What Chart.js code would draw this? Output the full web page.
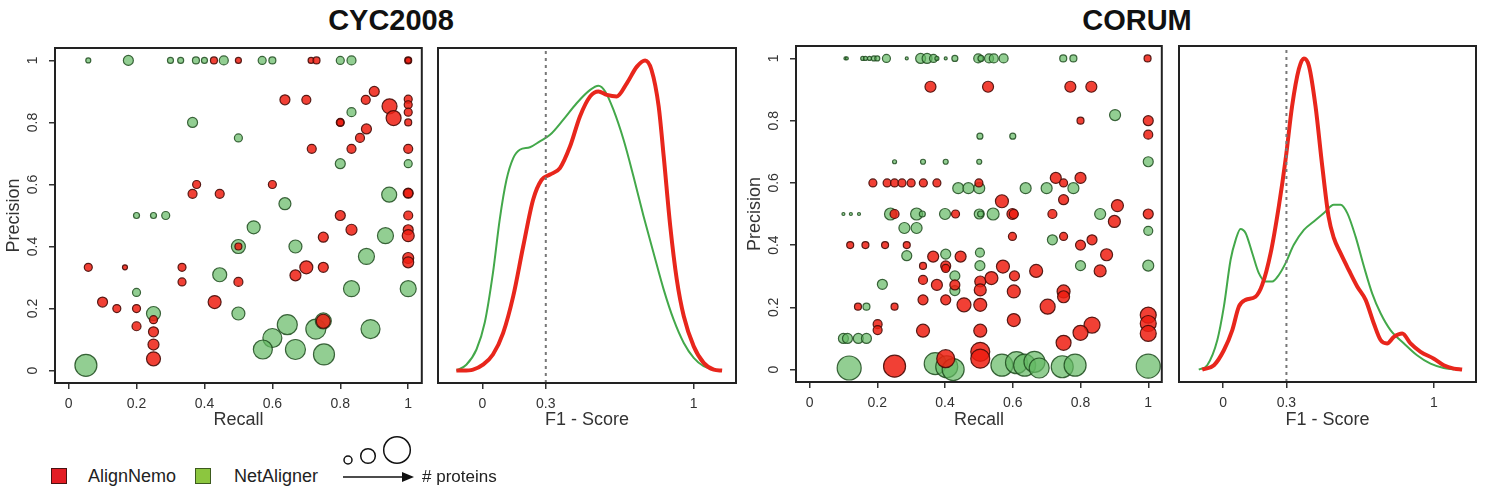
<!DOCTYPE html>
<html>
<head>
<meta charset="utf-8">
<title>AlignNemo vs NetAligner</title>
<script src="https://cdn.jsdelivr.net/npm/chart.js@4.4.1/dist/chart.umd.min.js"></script>
<style>
  body { margin: 0; background: #fff; font-family: "Liberation Sans", Arial, sans-serif; }
  #wrap { position: relative; width: 1487px; height: 489px; overflow: hidden; }
  #wrap canvas { position: absolute; top: 0; }
  .title { position: absolute; top: 5px; width: 200px; text-align: center; font-weight: bold; font-size: 29px; line-height: 30px; color: #111; }
  .leg { position: absolute; font-size: 18px; line-height: 20px; color: #222; white-space: nowrap; }
  .sq { position: absolute; width: 16px; height: 16px; box-sizing: border-box; border: 1.5px solid #333; }
</style>
</head>
<body>
<div id="wrap">
  <div class="title" style="left:291px">CYC2008</div>
  <div class="title" style="left:1037px">CORUM</div>

  <canvas id="cycScatter" width="434" height="440" style="left:0px"></canvas>
  <canvas id="cycDensity" width="306" height="440" style="left:434px"></canvas>
  <canvas id="corumScatter" width="435" height="440" style="left:740px"></canvas>
  <canvas id="corumDensity" width="312" height="440" style="left:1175px"></canvas>

  <div class="sq" style="left:51px; top:468px; background:#e31d24; border-color:#4a1212"></div>
  <div class="leg" style="left:88px; top:466px">AlignNemo</div>
  <div class="sq" style="left:195px; top:468px; background:#8cc63f; border-color:#3c5a1e"></div>
  <div class="leg" style="left:234px; top:466px">NetAligner</div>
  <svg style="position:absolute; left:330px; top:430px" width="100" height="60">
    <circle cx="18" cy="30" r="4" fill="none" stroke="#111" stroke-width="1.5"/>
    <circle cx="38" cy="26" r="7.3" fill="none" stroke="#111" stroke-width="1.5"/>
    <circle cx="67" cy="20" r="13.3" fill="none" stroke="#111" stroke-width="1.5"/>
    <line x1="13" y1="47" x2="74" y2="47" stroke="#111" stroke-width="1.6"/>
    <polygon points="72,42 84,47 72,52" fill="#111"/>
  </svg>
  <div class="leg" style="left:422px; top:467px; font-size:17px">#&nbsp;proteins</div>
</div>

<script>
// [recall, precision, bubble size]
const cycAlignNemo = [
    [0.428, 1, 3.5], [0.50, 1, 3], [0.714, 1, 3], [0.73, 1, 3.5], [1.0, 1, 3.5], [1.0, 1, 3],
    [0.90, 0.90, 5], [0.875, 0.873, 4.5], [0.637, 0.873, 5], [0.70, 0.873, 4.5],
    [1.0, 0.875, 4], [1.0, 0.857, 4], [1.0, 0.833, 4], [0.945, 0.852, 7.5], [0.957, 0.814, 7.5],
    [0.80, 0.80, 4], [0.80, 0.80, 3.5], [1.0, 0.80, 3.5], [0.877, 0.779, 5], [0.858, 0.75, 4.5],
    [0.833, 0.715, 4.5], [0.716, 0.715, 4.5], [1.0, 0.715, 4.5], [0.377, 0.60, 4], [0.365, 0.57, 4.5],
    [0.445, 0.57, 4.5], [0.60, 0.60, 4], [1.0, 0.572, 5], [1.0, 0.572, 4.5], [0.80, 0.50, 5],
    [1.0, 0.50, 4.5], [0.833, 0.454, 5.5], [1.0, 0.454, 5], [1.0, 0.435, 6], [0.75, 0.43, 5],
    [0.50, 0.40, 3.5], [1.0, 0.363, 5.5], [1.0, 0.349, 5.5], [0.058, 0.333, 4], [0.166, 0.333, 2.5],
    [0.334, 0.333, 4], [0.70, 0.333, 6.5], [0.668, 0.307, 5.5], [0.75, 0.333, 5], [0.334, 0.286, 4],
    [0.50, 0.286, 4.5], [0.10, 0.221, 5], [0.43, 0.221, 6.5], [0.142, 0.20, 4], [0.20, 0.20, 4],
    [0.25, 0.164, 4], [0.20, 0.143, 4.5], [0.25, 0.125, 5], [0.25, 0.084, 5.5], [0.25, 0.038, 7],
    [0.75, 0.159, 7]
];

const cycNetAligner = [
    [0.058, 1, 2.5], [0.176, 1, 5], [0.30, 1, 3], [0.33, 1, 3], [0.375, 1, 3.5], [0.40, 1, 3],
    [0.457, 1, 4.5], [0.57, 1, 4], [0.60, 1, 3.5], [0.80, 1, 4], [0.833, 1, 4.5],
    [0.365, 0.80, 5], [0.50, 0.75, 4], [0.833, 0.833, 4.5], [0.80, 0.667, 5], [1.0, 0.667, 4],
    [0.944, 0.567, 7.5], [0.20, 0.50, 3], [0.25, 0.50, 3], [0.286, 0.50, 4], [0.637, 0.538, 6],
    [0.545, 0.462, 6.5], [0.50, 0.40, 7], [0.668, 0.40, 6.5], [0.933, 0.435, 8], [0.877, 0.368, 8],
    [0.445, 0.309, 7], [0.833, 0.264, 8], [1.0, 0.264, 8], [0.20, 0.252, 4], [0.25, 0.184, 7],
    [0.50, 0.184, 6.5], [0.644, 0.148, 10], [0.60, 0.105, 9.5], [0.728, 0.134, 10], [0.889, 0.134, 9.5],
    [0.572, 0.068, 9.5], [0.668, 0.068, 10], [0.752, 0.052, 10.5], [0.051, 0.017, 11], [0.75, 0.16, 8]
];

const corumAlignNemo = [
    [0.998, 1, 3.5],
    [0.357, 0.909, 5.5], [0.527, 0.909, 5.5], [0.77, 0.909, 5.5], [0.832, 0.909, 5.5],
    [0.80, 0.80, 3.5], [1.0, 0.80, 5], [1.0, 0.755, 4.5],
    [0.187, 0.60, 4], [0.229, 0.60, 4], [0.251, 0.60, 4], [0.273, 0.60, 4], [0.30, 0.60, 4],
    [0.336, 0.60, 4], [0.376, 0.60, 4], [0.50, 0.60, 4],
    [0.727, 0.616, 5.5], [0.75, 0.60, 4], [0.80, 0.616, 5.5], [0.75, 0.546, 5], [0.568, 0.541, 6.5],
    [0.251, 0.50, 4.5], [0.431, 0.50, 4], [0.599, 0.50, 5.5], [0.603, 0.50, 4.5], [0.717, 0.50, 4.5],
    [1.0, 0.50, 5], [0.909, 0.527, 6], [0.90, 0.476, 6],
    [0.599, 0.428, 4], [0.75, 0.428, 4], [0.80, 0.40, 5], [0.834, 0.417, 5],
    [0.12, 0.40, 3.5], [0.165, 0.40, 3.5], [0.223, 0.40, 3.5], [0.287, 0.40, 3.5],
    [0.365, 0.363, 5.5], [0.446, 0.363, 5.5], [0.877, 0.369, 6], [0.335, 0.333, 3.5], [0.402, 0.333, 5],
    [0.402, 0.325, 4], [0.571, 0.331, 6.5], [0.669, 0.317, 6.5], [0.858, 0.317, 6],
    [0.335, 0.288, 4.5], [0.376, 0.272, 5.5], [0.429, 0.272, 5], [0.504, 0.283, 5.5], [0.504, 0.256, 6],
    [0.537, 0.294, 6.5], [0.605, 0.301, 5], [0.603, 0.251, 6.5], [0.75, 0.251, 6.5], [0.75, 0.234, 6],
    [0.335, 0.224, 5], [0.402, 0.224, 5], [0.456, 0.208, 7], [0.504, 0.208, 6.5], [0.703, 0.202, 7.5],
    [0.143, 0.202, 3.5], [0.251, 0.202, 3.5],
    [0.603, 0.159, 6.5], [0.201, 0.146, 4.5], [0.201, 0.127, 4.5], [0.335, 0.125, 6.5], [0.504, 0.125, 6.5],
    [0.834, 0.143, 8], [0.80, 0.118, 7.5], [0.75, 0.086, 7.5], [1.0, 0.175, 8], [1.0, 0.148, 8], [1.0, 0.116, 8],
    [0.504, 0.057, 9.5], [0.504, 0.035, 9.5], [0.402, 0.035, 9], [0.251, 0.011, 11]
];

const corumNetAligner = [
    [0.106, 1, 1.5], [0.11, 1, 1.5], [0.157, 1, 2], [0.165, 1, 2], [0.177, 1, 2], [0.19, 1, 2.5],
    [0.20, 1, 2.5], [0.227, 1, 4], [0.287, 1, 1.5], [0.328, 1, 5], [0.347, 1, 5], [0.366, 1, 4],
    [0.376, 1, 2], [0.402, 1, 1.5], [0.429, 1, 3], [0.498, 1, 4.5], [0.506, 1, 3], [0.53, 1, 4.5],
    [0.544, 1, 4.5], [0.573, 1, 4.5], [0.749, 1, 3.5], [0.779, 1, 3.5],
    [0.902, 0.818, 5.5], [0.503, 0.75, 3], [0.60, 0.75, 3], [0.251, 0.668, 2], [0.335, 0.668, 2.5],
    [0.402, 0.668, 2.5], [0.501, 0.668, 2.5], [1.0, 0.668, 5],
    [0.439, 0.583, 5.5], [0.469, 0.583, 5.5], [0.501, 0.583, 5.5], [0.638, 0.583, 5.5], [0.70, 0.583, 5.5],
    [0.779, 0.583, 5.5], [1.0, 0.446, 4.5],
    [0.10, 0.50, 1.5], [0.122, 0.50, 1.5], [0.146, 0.50, 1.5], [0.239, 0.50, 6], [0.316, 0.50, 6],
    [0.333, 0.50, 3], [0.40, 0.50, 5.5], [0.501, 0.50, 5], [0.505, 0.50, 3], [0.542, 0.50, 6], [0.858, 0.50, 5.5],
    [0.28, 0.455, 5.5], [0.316, 0.455, 5.5], [0.717, 0.417, 5], [0.287, 0.366, 5], [0.402, 0.371, 5],
    [0.503, 0.376, 4.5], [0.503, 0.334, 5], [0.80, 0.334, 5], [1.0, 0.334, 5.5], [0.215, 0.274, 5],
    [0.429, 0.301, 5], [0.429, 0.254, 5], [0.168, 0.202, 3.5],
    [0.10, 0.10, 5], [0.112, 0.10, 5], [0.144, 0.10, 5], [0.168, 0.10, 5],
    [0.117, 0.005, 12], [0.371, 0.019, 11], [0.405, 0.009, 11], [0.424, 0.0, 11], [0.568, 0.014, 11],
    [0.611, 0.022, 11], [0.635, 0.014, 11], [0.664, 0.025, 10.5], [0.678, 0.005, 10], [0.746, 0.009, 11],
    [0.784, 0.014, 11], [1.0, 0.011, 12]
];

// F1 score density curves, height relative to the tallest peak
const cycNemoF1 = [-0.123, -0.092, -0.044, 0.003, 0.05, 0.098, 0.146, 0.193, 0.24, 0.28, 0.32, 0.367,
    0.415, 0.462, 0.51, 0.549, 0.589, 0.636, 0.684, 0.731, 0.77, 0.80, 0.834, 0.858, 0.889, 0.92,
    0.953, 1.0, 1.047, 1.095, 1.134];
const cycNemoDensity = [0, 0, 0.003, 0.019, 0.052, 0.121, 0.24, 0.40, 0.551, 0.615, 0.632, 0.653,
    0.723, 0.82, 0.884, 0.90, 0.889, 0.884, 0.927, 0.98, 1.0, 0.97, 0.852, 0.69, 0.465, 0.293,
    0.175, 0.078, 0.025, 0.003, 0];

const cycNetF1 = [-0.123, -0.076, -0.028, 0.011, 0.05, 0.082, 0.114, 0.146, 0.177, 0.225, 0.272, 0.32,
    0.383, 0.446, 0.51, 0.549, 0.581, 0.62, 0.668, 0.715, 0.763, 0.81, 0.858, 0.905, 0.953, 1.0,
    1.047, 1.095, 1.134];
const cycNetDensity = [0, 0.019, 0.068, 0.154, 0.315, 0.487, 0.615, 0.685, 0.712, 0.72, 0.739, 0.76,
    0.809, 0.862, 0.905, 0.918, 0.90, 0.841, 0.744, 0.626, 0.497, 0.379, 0.261, 0.164, 0.089, 0.041,
    0.014, 0.003, 0];

const corumNemoF1 = [-0.1, -0.044, 0.003, 0.043, 0.074, 0.106, 0.153, 0.185, 0.225, 0.264, 0.296, 0.327,
    0.359, 0.383, 0.407, 0.438, 0.47, 0.50, 0.525, 0.557, 0.596, 0.636, 0.676, 0.715, 0.747, 0.778,
    0.81, 0.85, 0.889, 0.937, 1.0, 1.047, 1.095, 1.134];
const corumNemoDensity = [0, 0.014, 0.062, 0.127, 0.202, 0.224, 0.234, 0.272, 0.374, 0.525, 0.675, 0.847,
    0.966, 1.0, 0.976, 0.847, 0.654, 0.492, 0.423, 0.374, 0.32, 0.267, 0.224, 0.148, 0.095, 0.084,
    0.105, 0.116, 0.084, 0.057, 0.035, 0.014, 0.003, 0];

const corumNetF1 = [-0.116, -0.076, -0.028, 0.003, 0.035, 0.059, 0.082, 0.106, 0.138, 0.169, 0.201, 0.233,
    0.264, 0.296, 0.335, 0.383, 0.43, 0.478, 0.525, 0.557, 0.589, 0.628, 0.668, 0.707, 0.747, 0.794,
    0.858, 0.92, 0.984, 1.047, 1.095];
const corumNetDensity = [0, 0.014, 0.095, 0.202, 0.353, 0.417, 0.452, 0.439, 0.374, 0.31, 0.283, 0.283,
    0.304, 0.342, 0.401, 0.449, 0.476, 0.503, 0.53, 0.53, 0.503, 0.428, 0.331, 0.245, 0.181, 0.127,
    0.084, 0.046, 0.019, 0.005, 0];

const unitTicks = [0, 0.2, 0.4, 0.6, 0.8, 1];
const f1Ticks = [0, 0.3, 1];
const f1Cutoff = 0.3;

const FONT = '"Liberation Sans", Arial, sans-serif';
Chart.defaults.font.family = FONT;

function bubbles(rows) {
    return rows.map(([x, y, r]) => ({ x, y, r }));
}

function curve(xs, ys) {
    return xs.map((x, i) => ({ x, y: ys[i] }));
}

function fixedTicks(values) {
    return scale => { scale.ticks = values.map(v => ({ value: v })); };
}

// box around the plot area, like R's box()
const frame = {
    id: "frame",
    afterDatasetsDraw(chart) {
        const { ctx, chartArea: a } = chart;
        ctx.save();
        ctx.strokeStyle = "#222";
        ctx.lineWidth = 2;
        ctx.strokeRect(a.left, a.top, a.right - a.left, a.bottom - a.top);
        ctx.restore();
    }
};

// y tick labels turned parallel to the axis
const rotatedYLabels = {
    id: "rotatedYLabels",
    afterDraw(chart) {
        const s = chart.scales.y;
        if (!s.options.display) return;
        const ctx = chart.ctx;
        ctx.save();
        ctx.fillStyle = "#333";
        ctx.font = "14px " + FONT;
        ctx.textAlign = "center";
        ctx.textBaseline = "middle";
        s.ticks.forEach(t => {
            ctx.save();
            ctx.translate(s.right - 22, s.getPixelForValue(t.value));
            ctx.rotate(-Math.PI / 2);
            ctx.fillText(String(t.value), 0, 0);
            ctx.restore();
        });
        ctx.restore();
    }
};

const tickGrid = { drawOnChartArea: false, drawTicks: true, tickLength: 6, color: "#333", lineWidth: 1.5 };

function xAxis(min, max, ticks, text, height) {
    return {
        type: "linear", min, max,
        afterBuildTicks: fixedTicks(ticks),
        afterFit: s => { s.height = height; },
        grid: tickGrid,
        border: { display: false },
        ticks: { color: "#333", font: { size: 14 }, padding: 7, maxRotation: 0, autoSkip: false, callback: v => String(v) },
        title: { display: true, text, color: "#333", font: { size: 18 }, padding: { top: 0, bottom: 9 } }
    };
}

function precisionAxis(width, titlePad) {
    return {
        type: "linear", min: -0.04, max: 1.04,
        afterBuildTicks: fixedTicks(unitTicks),
        afterFit: s => { s.width = width; },
        grid: tickGrid,
        border: { display: false },
        ticks: { display: false },
        title: { display: true, text: "Precision", color: "#333", font: { size: 18 }, padding: { top: titlePad, bottom: 0 } }
    };
}

function makeChart(id, type, datasets, scales, padding) {
    return new Chart(document.getElementById(id), {
        type,
        data: { datasets },
        options: {
            responsive: false,
            animation: false,
            events: [],
            layout: { padding },
            plugins: { legend: { display: false }, tooltip: { enabled: false } },
            scales
        },
        plugins: [frame, rotatedYLabels]
    });
}

function scatterSets(nemo, net) {
    return [
        { label: "AlignNemo", data: bubbles(nemo), backgroundColor: "rgba(238, 30, 18, 0.85)", borderColor: "rgba(70, 12, 8, 0.9)", borderWidth: 1.2, clip: false },
        { label: "NetAligner", data: bubbles(net), backgroundColor: "rgba(100, 185, 100, 0.7)", borderColor: "rgba(30, 75, 30, 0.85)", borderWidth: 1.2, clip: false }
    ];
}

function densitySets(nemoX, nemoY, netX, netY) {
    return [
        { label: "cutoff", data: [{ x: f1Cutoff, y: -0.04 }, { x: f1Cutoff, y: 1.04 }], borderColor: "#777", borderWidth: 2, borderDash: [3, 4], pointRadius: 0 },
        { label: "AlignNemo", data: curve(nemoX, nemoY), borderColor: "#e8261c", borderWidth: 4, pointRadius: 0, cubicInterpolationMode: "monotone", clip: false },
        { label: "NetAligner", data: curve(netX, netY), borderColor: "#43a84a", borderWidth: 2, pointRadius: 0, cubicInterpolationMode: "monotone", clip: false }
    ];
}

makeChart("cycScatter", "bubble", scatterSets(cycAlignNemo, cycNetAligner), {
    x: xAxis(-0.04, 1.04, unitTicks, "Recall", 57),
    y: precisionAxis(55, 3)
}, { top: 48, right: 4, left: 0, bottom: 0 });

makeChart("cycDensity", "line", densitySets(cycNemoF1, cycNemoDensity, cycNetF1, cycNetDensity), {
    x: xAxis(-0.21, 1.2, f1Ticks, "F1 - Score", 57),
    y: { type: "linear", display: false, min: -0.04, max: 1.04 }
}, { top: 48, right: 4, left: 4, bottom: 0 });

makeChart("corumScatter", "bubble", scatterSets(corumAlignNemo, corumNetAligner), {
    x: xAxis(-0.04, 1.04, unitTicks, "Recall", 58),
    y: precisionAxis(56, 4)
}, { top: 46, right: 4, left: 0, bottom: 0 });

makeChart("corumDensity", "line", densitySets(corumNemoF1, corumNemoDensity, corumNetF1, corumNetDensity), {
    x: xAxis(-0.21, 1.2, f1Ticks, "F1 - Score", 58),
    y: { type: "linear", display: false, min: -0.04, max: 1.04 }
}, { top: 46, right: 11, left: 4, bottom: 0 });
</script>
</body>
</html>
